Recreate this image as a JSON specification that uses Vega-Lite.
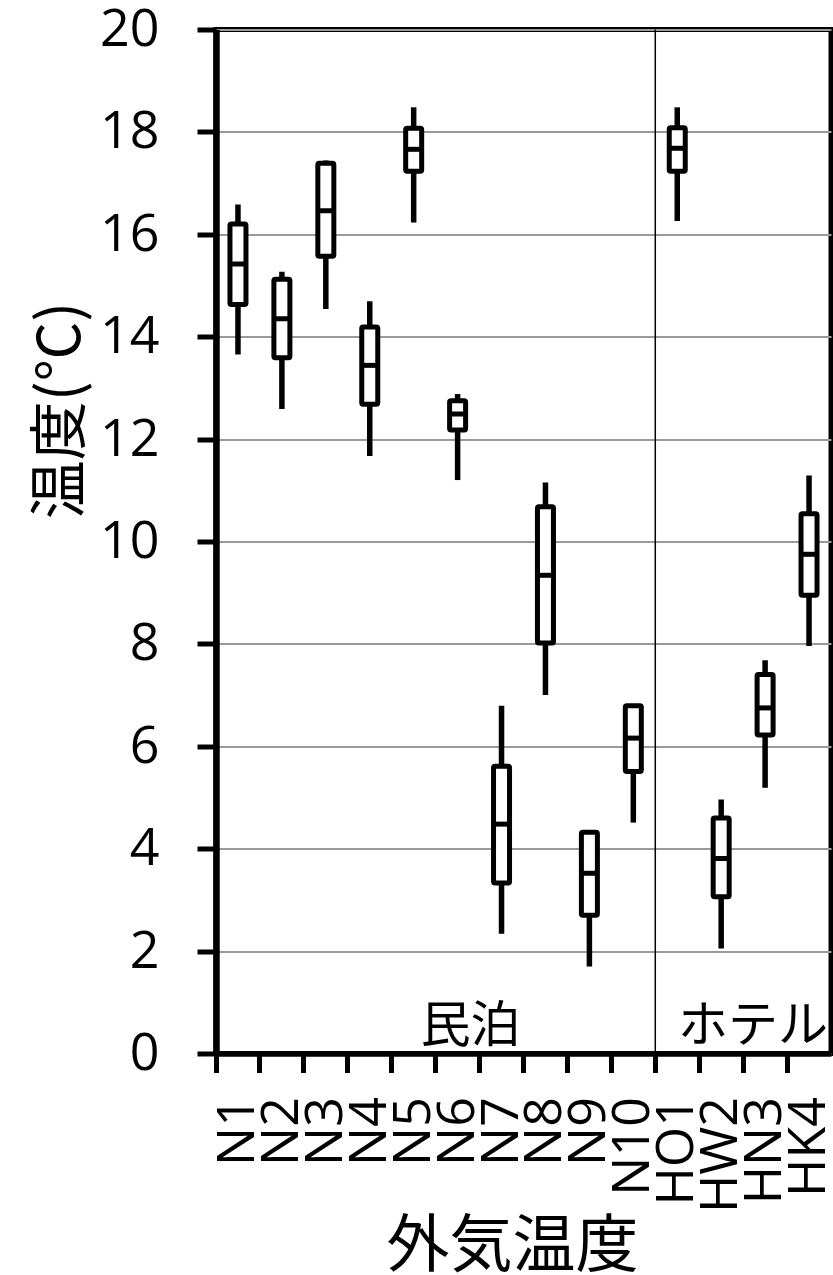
{
  "$schema": "https://vega.github.io/schema/vega-lite/v6.json",
  "autosize": {"type": "none"},
  "width": 615,
  "height": 1024,
  "padding": {"left": 216, "top": 29.5, "right": 2, "bottom": 221.5},
  "background": "white",
  "config": {
    "view": {"stroke": "black", "strokeWidth": 5},
    "axis": {
      "domainColor": "black",
      "tickColor": "black",
      "labelColor": "black",
      "titleColor": "black",
      "labelFont": "Open Sans",
      "labelFontSize": 52,
      "titleFont": "Noto Sans CJK JP",
      "titleFontWeight": "normal"
    }
  },
  "datasets": {
    "boxes": [
      {"cat": "N1", "lo": 13.65, "q1": 14.63, "med": 15.42, "q3": 16.2, "hi": 16.58},
      {"cat": "N2", "lo": 12.59, "q1": 13.59, "med": 14.35, "q3": 15.12, "hi": 15.27},
      {"cat": "N3", "lo": 14.54, "q1": 15.57, "med": 16.46, "q3": 17.39, "hi": 17.44},
      {"cat": "N4", "lo": 11.67, "q1": 12.68, "med": 13.44, "q3": 14.19, "hi": 14.69},
      {"cat": "N5", "lo": 16.23, "q1": 17.23, "med": 17.66, "q3": 18.07, "hi": 18.48},
      {"cat": "N6", "lo": 11.2, "q1": 12.18, "med": 12.49, "q3": 12.75, "hi": 12.88},
      {"cat": "N7", "lo": 2.34, "q1": 3.33, "med": 4.48, "q3": 5.61, "hi": 6.79},
      {"cat": "N8", "lo": 7.0, "q1": 8.02, "med": 9.34, "q3": 10.68, "hi": 11.15},
      {"cat": "N9", "lo": 1.7, "q1": 2.7, "med": 3.52, "q3": 4.32, "hi": 4.34},
      {"cat": "N10", "lo": 4.51, "q1": 5.51, "med": 6.16, "q3": 6.79, "hi": 6.79},
      {"cat": "HO1", "lo": 16.26, "q1": 17.23, "med": 17.68, "q3": 18.08, "hi": 18.48},
      {"cat": "HW2", "lo": 2.05, "q1": 3.06, "med": 3.81, "q3": 4.6, "hi": 4.96},
      {"cat": "HN3", "lo": 5.19, "q1": 6.22, "med": 6.75, "q3": 7.4, "hi": 7.68},
      {"cat": "HK4", "lo": 7.96, "q1": 8.95, "med": 9.75, "q3": 10.54, "hi": 11.29}
    ],
    "divider": [{"cat": "HO1"}],
    "groups": [
      {"label": "民泊", "cat": "N7"},
      {"label": "ホテル", "cat": "HK4"}
    ]
  },
  "layer": [
    {
      "data": {"name": "boxes"},
      "mark": {"type": "rule", "color": "black", "strokeWidth": 5.5},
      "encoding": {
        "x": {
          "field": "cat",
          "type": "nominal",
          "scale": {
            "domain": ["N1", "N2", "N3", "N4", "N5", "N6", "N7", "N8", "N9", "N10", "HO1", "HW2", "HN3", "HK4"],
            "paddingInner": 0,
            "paddingOuter": 0
          },
          "axis": {
            "title": "外気温度",
            "titleFontSize": 63,
            "titleAlign": "center",
            "titleBaseline": "alphabetic",
            "titleX": 296,
            "titleY": 212,
            "labelAngle": -90,
            "labelPadding": 24,
            "labelOverlap": false,
            "labelBound": false,
            "tickSize": 19,
            "tickWidth": 5,
            "domainWidth": 5.5,
            "bandPosition": 0,
            "tickExtra": true,
            "grid": false
          }
        },
        "y": {
          "field": "lo",
          "type": "quantitative",
          "scale": {"domain": [0, 20], "nice": false, "zero": true},
          "axis": {
            "title": "温度(°C)",
            "titleFontSize": 59,
            "titleAlign": "center",
            "titleBaseline": "alphabetic",
            "titleAngle": 270,
            "titleX": -137,
            "titleY": 380.5,
            "values": [0, 2, 4, 6, 8, 10, 12, 14, 16, 18, 20],
            "grid": true,
            "gridColor": "#9a9a9a",
            "gridWidth": 2,
            "tickSize": 19,
            "tickWidth": 5,
            "domainWidth": 6.5,
            "labelPadding": 38
          }
        },
        "y2": {"field": "hi"}
      }
    },
    {
      "data": {"name": "boxes"},
      "mark": {
        "type": "bar",
        "size": 16,
        "fill": "white",
        "stroke": "black",
        "strokeWidth": 5,
        "strokeJoin": "round",
        "cornerRadius": 1.5
      },
      "encoding": {
        "x": {"field": "cat", "type": "nominal"},
        "y": {"field": "q1", "type": "quantitative"},
        "y2": {"field": "q3"}
      }
    },
    {
      "data": {"name": "boxes"},
      "mark": {"type": "tick", "size": 16, "thickness": 5, "color": "black", "opacity": 1},
      "encoding": {
        "x": {"field": "cat", "type": "nominal"},
        "y": {"field": "med", "type": "quantitative"}
      }
    },
    {
      "data": {"name": "divider"},
      "mark": {"type": "rule", "color": "black", "strokeWidth": 1.5},
      "encoding": {
        "x": {"field": "cat", "type": "nominal", "bandPosition": 0}
      }
    },
    {
      "data": {"name": "groups"},
      "mark": {
        "type": "text",
        "font": "Noto Sans CJK JP",
        "fontSize": 50,
        "color": "black",
        "align": "right",
        "baseline": "alphabetic",
        "dx": -3
      },
      "encoding": {
        "x": {"field": "cat", "type": "nominal", "bandPosition": 1},
        "y": {"datum": 0.23, "type": "quantitative"},
        "text": {"field": "label"}
      }
    }
  ]
}
